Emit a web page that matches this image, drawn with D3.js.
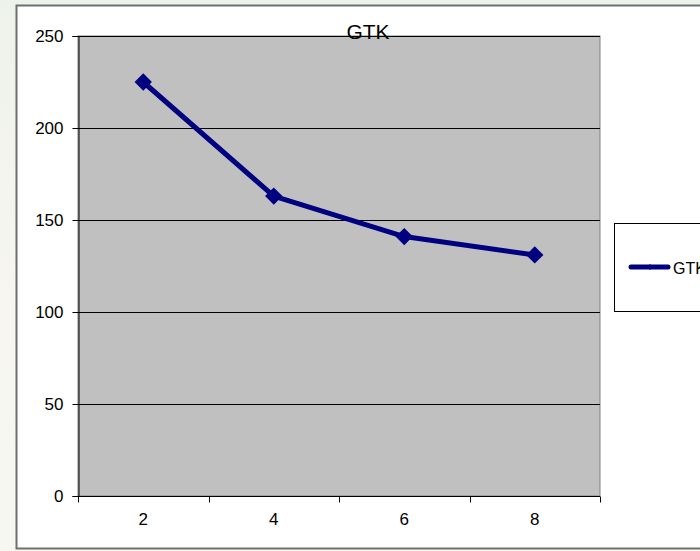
<!DOCTYPE html>
<html>
<head>
<meta charset="utf-8">
<script src="https://cdn.jsdelivr.net/npm/d3@7"></script>
<style>
  html, body { margin: 0; padding: 0; background: #eef2ea; }
  svg { display: block; }
</style>
</head>
<body>
<svg id="chart" width="700" height="551"></svg>
<script>
const categories = ["2", "4", "6", "8"];
const gtkValues = [225, 163, 141, 131];
const yTicks = [0, 50, 100, 150, 200, 250];
const seriesName = "GTK";
const titleText = "GTK";

const svg = d3.select("#chart");
const W = 700, H = 551;
const FONT = "Liberation Sans, Arial, sans-serif";

// slide-like backdrop
const defs = svg.append("defs");
const bg = defs.append("linearGradient").attr("id", "bg").attr("x1", 0).attr("y1", 0).attr("x2", 0).attr("y2", 1);
bg.append("stop").attr("offset", "0%").attr("stop-color", "#edf2ea");
bg.append("stop").attr("offset", "55%").attr("stop-color", "#f7f6f0");
bg.append("stop").attr("offset", "100%").attr("stop-color", "#f6f7f1");
svg.append("rect").attr("width", W).attr("height", H).attr("fill", "url(#bg)");

// chart frame
svg.append("rect")
  .attr("x", 16.5).attr("y", 5.5).attr("width", 700).attr("height", 543)
  .attr("fill", "#ffffff").attr("stroke", "#6f6f6f").attr("stroke-width", 2);

const plot = { left: 78, top: 36, right: 600, bottom: 496 };

const x = d3.scaleBand().domain(categories).range([plot.left, plot.right]).padding(0);
const y = d3.scaleLinear().domain([0, 250]).range([plot.bottom, plot.top]);

// plot area
svg.append("rect")
  .attr("x", plot.left).attr("y", plot.top)
  .attr("width", plot.right - plot.left).attr("height", plot.bottom - plot.top)
  .attr("fill", "#c0c0c0").attr("stroke", "#808080").attr("stroke-width", 1);

// horizontal gridlines
svg.append("g").selectAll("line").data(yTicks.filter(d => d > 0)).join("line")
  .attr("x1", plot.left).attr("x2", plot.right)
  .attr("y1", d => Math.round(y(d)) + 0.5).attr("y2", d => Math.round(y(d)) + 0.5)
  .attr("stroke", "#000").attr("stroke-width", 1);

// y axis
const yAxis = svg.append("g")
  .attr("transform", `translate(${plot.left + 0.5},0)`)
  .call(d3.axisLeft(y).tickValues(yTicks).tickSize(6).tickPadding(9).tickFormat(d3.format("d")));
yAxis.select(".domain").attr("stroke", "#000");
yAxis.selectAll(".tick line").attr("stroke", "#000");
yAxis.selectAll("text").attr("font-family", FONT).attr("font-size", 17).attr("fill", "#000");

// x axis: ticks between categories
const xAxisG = svg.append("g").attr("transform", `translate(0,${plot.bottom + 0.5})`);
xAxisG.append("line").attr("x1", plot.left).attr("x2", plot.right).attr("stroke", "#000");
const boundaries = categories.map(c => x(c)).concat([x(categories[categories.length - 1]) + x.bandwidth()]);
xAxisG.selectAll("line.tk").data(boundaries).join("line").attr("class", "tk")
  .attr("x1", d => Math.round(d) + 0.5).attr("x2", d => Math.round(d) + 0.5)
  .attr("y1", 0).attr("y2", 6).attr("stroke", "#000");
xAxisG.selectAll("text").data(categories).join("text")
  .attr("x", d => x(d) + x.bandwidth() / 2)
  .attr("y", 28.5)
  .attr("text-anchor", "middle")
  .attr("font-family", FONT).attr("font-size", 17).attr("fill", "#000")
  .text(d => d);

// series line
const pts = categories.map((c, i) => [x(c) + x.bandwidth() / 2, y(gtkValues[i])]);
svg.append("path")
  .attr("d", d3.line()(pts))
  .attr("fill", "none").attr("stroke", "#000080").attr("stroke-width", 5)
  .attr("stroke-linejoin", "round");

const diamond = d3.symbol().type(d3.symbolSquare).size(150);
svg.append("g").selectAll("path").data(pts).join("path")
  .attr("d", diamond)
  .attr("transform", d => `translate(${d[0]},${d[1]}) rotate(45)`)
  .attr("fill", "#000080");

// title
svg.append("text")
  .attr("x", 368).attr("y", 39)
  .attr("text-anchor", "middle")
  .attr("font-family", FONT).attr("font-size", 21).attr("fill", "#000")
  .text(titleText);

// legend
svg.append("rect")
  .attr("x", 614.5).attr("y", 223.5).attr("width", 120).attr("height", 88)
  .attr("fill", "#fff").attr("stroke", "#000").attr("stroke-width", 1);
svg.append("line")
  .attr("x1", 631).attr("x2", 668).attr("y1", 267).attr("y2", 267)
  .attr("stroke", "#000080").attr("stroke-width", 5).attr("stroke-linecap", "round");
svg.append("path")
  .attr("d", d3.symbol().type(d3.symbolSquare).size(18))
  .attr("transform", "translate(650,267) rotate(45)")
  .attr("fill", "#000080");
svg.append("text")
  .attr("x", 673).attr("y", 274)
  .attr("font-family", FONT).attr("font-size", 16).attr("fill", "#000")
  .text(seriesName);
</script>
</body>
</html>
